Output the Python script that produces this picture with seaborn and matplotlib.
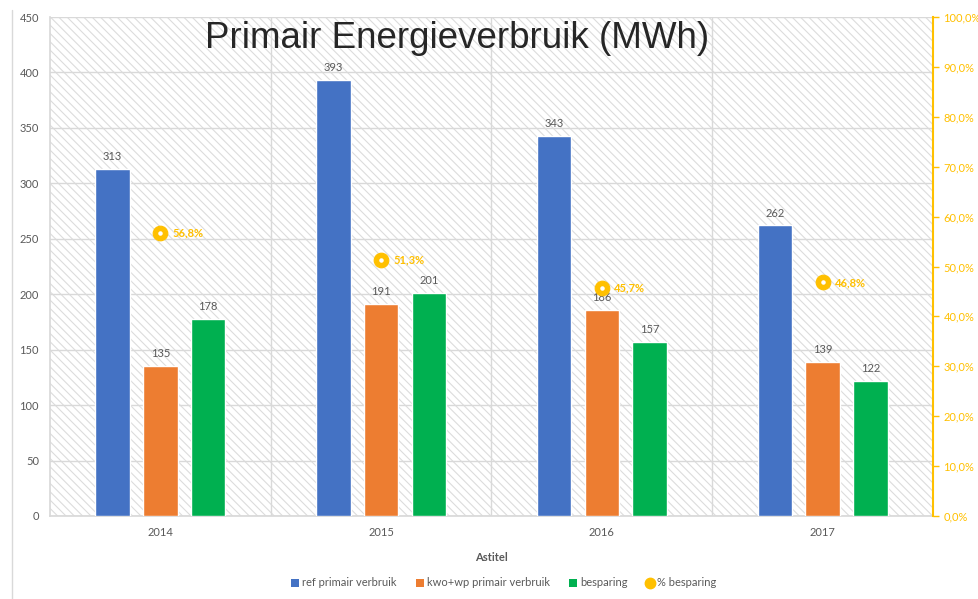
import numpy as np
import pandas as pd
import matplotlib.pyplot as plt
import seaborn as sns
from matplotlib.patches import Rectangle, Patch
from matplotlib.lines import Line2D
from matplotlib.ticker import FuncFormatter

# data
jaren = ['2014', '2015', '2016', '2017']
ref_primair = [313, 393, 343, 262]
kwo_wp_primair = [135, 191, 186, 139]
besparing = [178, 201, 157, 122]
pct_besparing = [0.568, 0.513, 0.457, 0.468]

reeksen = ['ref primair verbruik', 'kwo+wp primair verbruik', 'besparing']
kleuren = ['#4472C4', '#ED7D31', '#00B050']
goud = '#FFC000'
grijs = '#595959'

df = pd.DataFrame({
    'jaar': jaren * 3,
    'reeks': np.repeat(reeksen, len(jaren)),
    'waarde': ref_primair + kwo_wp_primair + besparing,
})

sns.set_theme(style='white')
plt.rcParams['font.family'] = ['Lato', 'DejaVu Sans']
plt.rcParams['hatch.color'] = '#dcdcdc'
plt.rcParams['hatch.linewidth'] = 0.8

fig = plt.figure(figsize=(9.79, 5.99), dpi=100)
ax = fig.add_axes([50 / 979, 1 - 516 / 599, 883 / 979, 499 / 599])

# gearceerde achtergrond
ax.add_patch(Rectangle((0, 0), 1, 1, transform=ax.transAxes, facecolor='white',
                       edgecolor='#dcdcdc', hatch='\\\\\\\\', linewidth=0, zorder=0))

sns.barplot(data=df, x='jaar', y='waarde', hue='reeks', palette=kleuren, saturation=1,
            width=0.65, gap=0.28, ax=ax, legend=False, zorder=3, errorbar=None)

for cont in ax.containers:
    ax.bar_label(cont, fmt='%d', padding=5, fontsize=8, color=grijs)

ax.set_ylim(0, 450)
ax.set_xlim(-0.5, 3.5)
ax.set_yticks(range(0, 451, 50))
ax.grid(axis='y', color='#d9d9d9', linewidth=1, zorder=1)
for xv in [0.5, 1.5, 2.5]:
    ax.axvline(xv, color='#d9d9d9', linewidth=1, zorder=1)
ax.set_axisbelow(True)
ax.tick_params(axis='both', length=0, labelsize=8, labelcolor=grijs, pad=8)
ax.set_ylabel('')
ax.set_xlabel('Astitel', fontsize=8, fontweight='bold', color=grijs, labelpad=10)
for s in ['top', 'right']:
    ax.spines[s].set_visible(False)
ax.spines['left'].set_color('#d9d9d9')
ax.spines['bottom'].set_color('#d9d9d9')

# secundaire as
ax2 = ax.twinx()
ax2.set_ylim(0, 1)
ax2.set_yticks(np.arange(0, 1.01, 0.1))
ax2.yaxis.set_major_formatter(FuncFormatter(lambda v, p: f'{v * 100:.1f}%'.replace('.', ',')))
ax2.tick_params(axis='y', colors=goud, labelcolor=goud, labelsize=8, length=4, width=1, direction='out')
for s in ['top', 'left', 'bottom']:
    ax2.spines[s].set_visible(False)
ax2.spines['right'].set_color(goud)
ax2.spines['right'].set_linewidth(1.5)
ax2.grid(False)

xpos = np.arange(len(jaren))
sns.scatterplot(x=xpos, y=pct_besparing, ax=ax2, color=goud, s=110, edgecolor=goud, zorder=5)
ax2.scatter(xpos, pct_besparing, color='white', s=5, zorder=6)
for x, p in zip(xpos, pct_besparing):
    ax2.annotate(f'{p * 100:.1f}%'.replace('.', ','), (x, p), xytext=(9, 0),
                 textcoords='offset points', va='center', fontsize=8,
                 fontweight='bold', color=goud)

fig.text(457 / 979, 1 - 38 / 599, 'Primair Energieverbruik (MWh)', ha='center', va='center',
         fontsize=26.5, color='#262626', family=['Liberation Sans', 'DejaVu Sans'])

handles = [Patch(facecolor=c, edgecolor='none') for c in kleuren]
handles.append(Line2D([], [], marker='o', linestyle='none', markerfacecolor=goud,
                      markeredgecolor=goud, markersize=7.5))
fig.legend(handles, reeksen + ['% besparing'], loc='center', bbox_to_anchor=(504 / 979, 1 - 583 / 599),
           ncol=4, frameon=False, fontsize=8, labelcolor=grijs, handlelength=0.7,
           handleheight=0.7, handletextpad=0.3, columnspacing=1.7)

fig.add_artist(Line2D([12 / 979, 12 / 979], [0, 1 - 10 / 599], color='#d9d9d9', linewidth=1))

fig.savefig('out.png', dpi=100)
